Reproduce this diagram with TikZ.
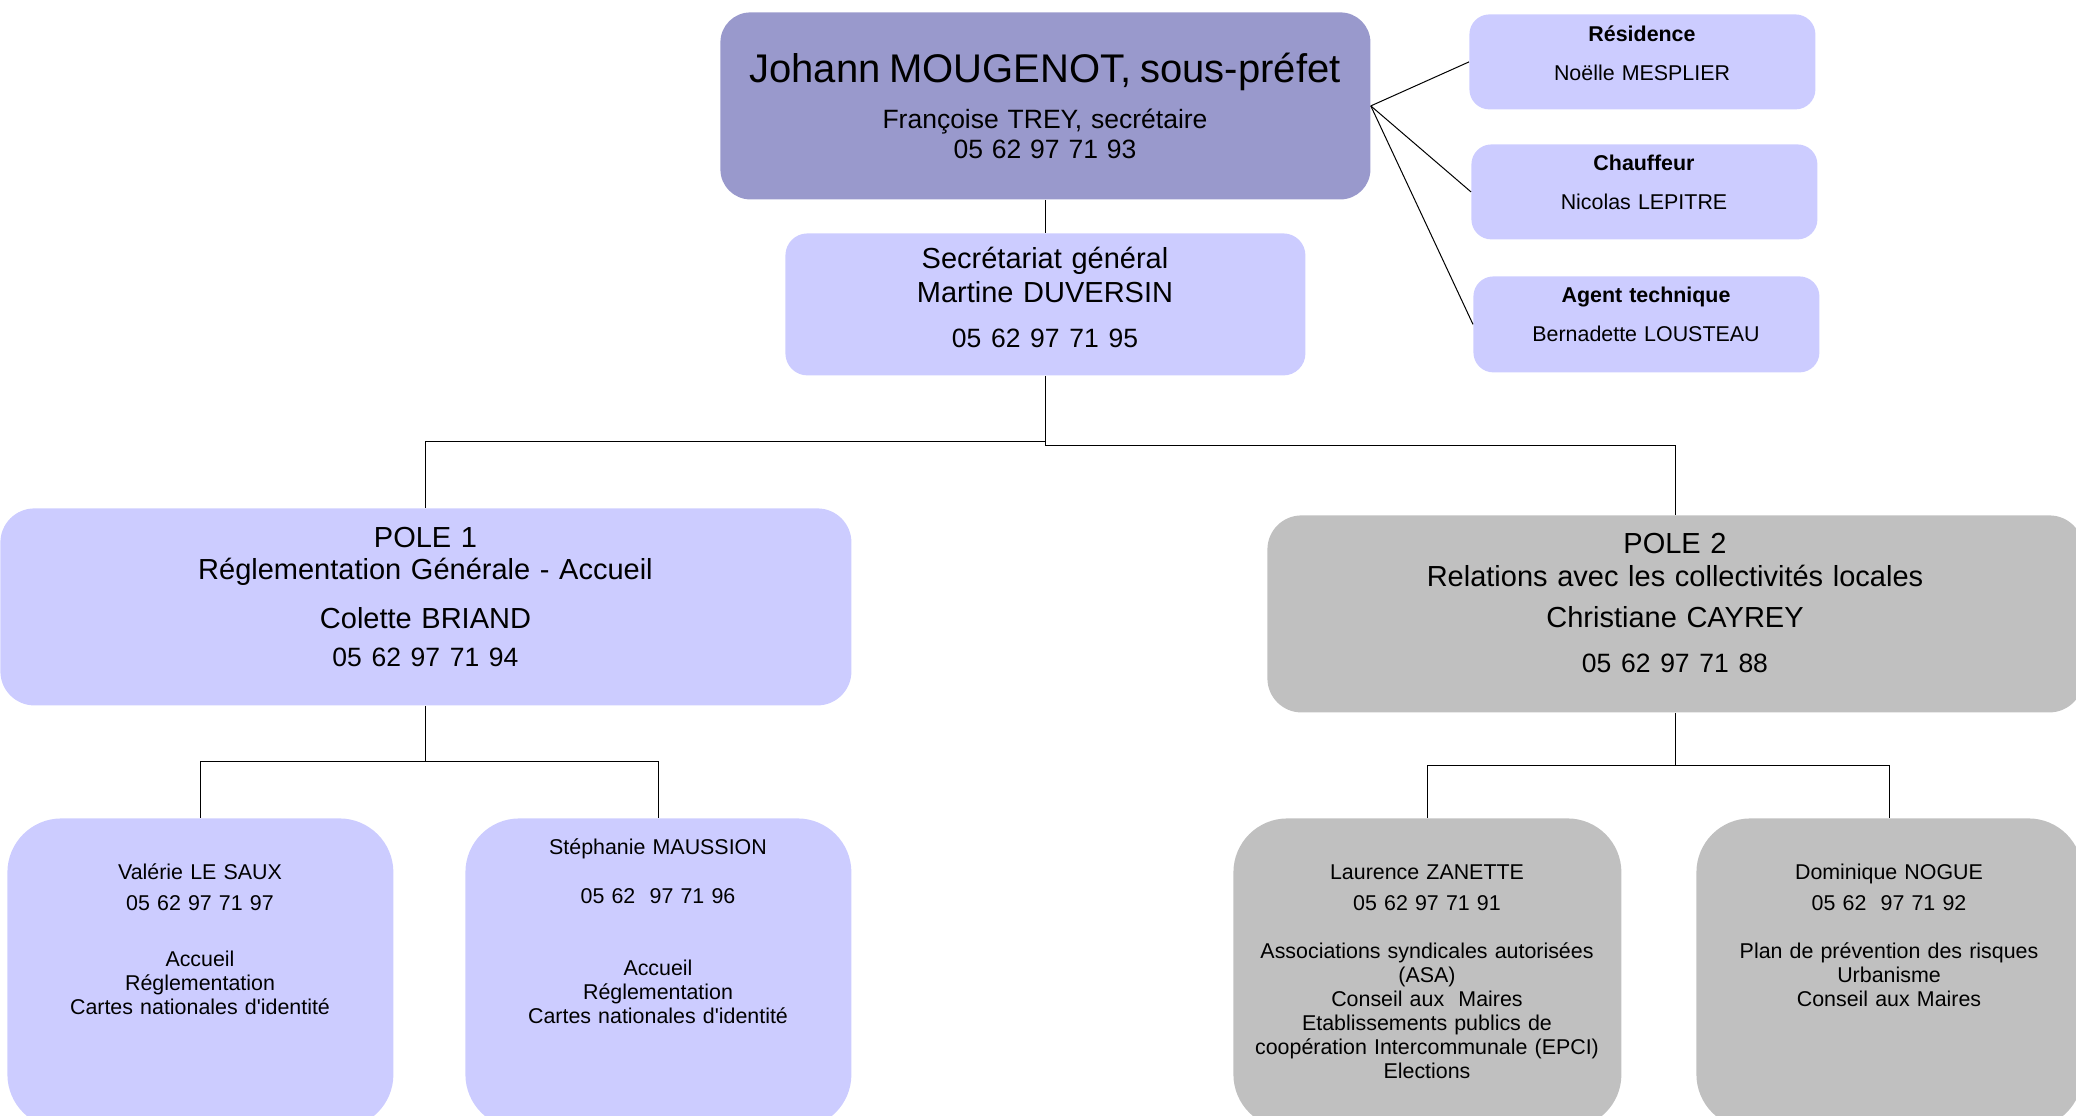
\documentclass[tikz,border=0pt]{standalone}
\usepackage{fontspec}
\setmainfont{Liberation Sans}
\usetikzlibrary{positioning}

\definecolor{sousprefet}{HTML}{9999CC}
\definecolor{lavande}{HTML}{CCCCFF}
\definecolor{gris}{HTML}{C0C0C0}

\tikzset{
  boite/.style={anchor=north west, inner sep=0pt, rounded corners=#1},
  boite/.default=10pt,
  texte/.style={anchor=base, inner sep=0pt, align=center, text width=420pt},
  grand/.style={font=\fontsize{14.5}{16}\selectfont},
  petit/.style={font=\fontsize{10.7}{12}\selectfont},
  lien/.style={draw=black, line width=0.5pt},
}
\newcommand{\tel}[1]{{\fontsize{13.25}{15}\selectfont #1}}

\begin{document}
\begin{tikzpicture}[x=0.5pt,y=-0.5pt]
\useasboundingbox (0,0) rectangle (2076,1115);

\node[boite=15pt, fill=sousprefet, minimum width=325pt, minimum height=93.5pt] (chef) at (720,12) {};
\node[boite=11pt, fill=lavande, minimum width=260pt, minimum height=71pt] (sec) at (785,233) {};
\node[boite, fill=lavande, minimum width=173pt, minimum height=47.5pt] (res) at (1469,14) {};
\node[boite, fill=lavande, minimum width=173pt, minimum height=47.5pt] (chauf) at (1471,144) {};
\node[boite, fill=lavande, minimum width=173pt, minimum height=48pt] (agent) at (1473,276) {};
\node[boite=17pt, fill=lavande, minimum width=425.5pt, minimum height=98.5pt] (pole1) at (0,508) {};
\node[boite=17pt, fill=gris, minimum width=408pt, minimum height=98.5pt] (pole2) at (1267,515) {};
\node[boite=27pt, fill=lavande, minimum width=193pt, minimum height=155pt] (c1) at (7,818) {};
\node[boite=27pt, fill=lavande, minimum width=193pt, minimum height=155pt] (c2) at (465,818) {};
\node[boite=27pt, fill=gris, minimum width=194pt, minimum height=155pt] (c3) at (1233,818) {};
\node[boite=27pt, fill=gris, minimum width=193pt, minimum height=155pt] (c4) at (1696,818) {};

\node[texte, font=\fontsize{13.25}{15}\selectfont] (chefTxt) at (1045,82)
  {{\fontsize{20}{24}\selectfont Johann MOUGENOT, sous-préfet}\\[8pt]Françoise TREY, secrétaire\\05 62 97 71 93};
\node[texte, font=\fontsize{14.5}{17}\selectfont] (secTxt) at (1045,268)
  {Secrétariat général\\Martine DUVERSIN\\[5.5pt]\tel{05 62 97 71 95}};
\node[texte, petit] (resTxt) at (1642,41) {\textbf{Résidence}\\[7.5pt]Noëlle MESPLIER};
\node[texte, petit] (chaufTxt) at (1644,170) {\textbf{Chauffeur}\\[7.5pt]Nicolas LEPITRE};
\node[texte, petit] (agentTxt) at (1646,302) {\textbf{Agent technique}\\[7.5pt]Bernadette LOUSTEAU};
\node[texte, grand] (pole1Txt) at (425.5,547)
  {POLE 1\\Réglementation Générale - Accueil\\[8.5pt]Colette BRIAND\\[3pt]\tel{05 62 97 71 94}};
\node[texte, font=\fontsize{14.5}{16.5}\selectfont] (pole2Txt) at (1675,553)
  {POLE 2\\Relations avec les collectivités locales\\[4pt]Christiane CAYREY\\[6pt]\tel{05 62 97 71 88}};
\node[texte, petit] (c1Txt) at (200,879)
  {Valérie LE SAUX\\[3.5pt]05 62 97 71 97\\[16pt]Accueil\\Réglementation\\Cartes nationales d\textquotesingle identité};
\node[texte, petit] (c2Txt) at (658,854)
  {Stéphanie MAUSSION\\[12.5pt]05 62~ 97 71 96\\[24pt]Accueil\\Réglementation\\Cartes nationales d\textquotesingle identité};
\node[texte, petit] (c3Txt) at (1427,879)
  {Laurence ZANETTE\\[3.5pt]05 62 97 71 91\\[12pt]Associations syndicales autorisées\\(ASA)\\Conseil aux~ Maires\\Etablissements publics de\\coopération Intercommunale (EPCI)\\Elections};
\node[texte, petit] (c4Txt) at (1889,879)
  {Dominique NOGUE\\[3.5pt]05 62~ 97 71 92\\[12pt]Plan de prévention des risques\\Urbanisme\\Conseil aux Maires};

\draw[lien] (chef) -- (sec);
\draw[lien] (chef.east) -- (res.west);
\draw[lien] (chef.east) -- (chauf.west);
\draw[lien] (chef.east) -- (agent.west);
\draw[lien] (sec.south) -- ++(0,66) -| (pole1.north);
\draw[lien] (sec.south) -- ++(0,70) -| (pole2.north);
\draw[lien] (pole1.south) -- ++(0,56) -| (c1.north);
\draw[lien] (pole1.south) -- ++(0,56) -| (c2.north);
\draw[lien] (pole2.south) -- ++(0,53) -| (c3.north);
\draw[lien] (pole2.south) -- ++(0,53) -| (c4.north);
\end{tikzpicture}
\end{document}
